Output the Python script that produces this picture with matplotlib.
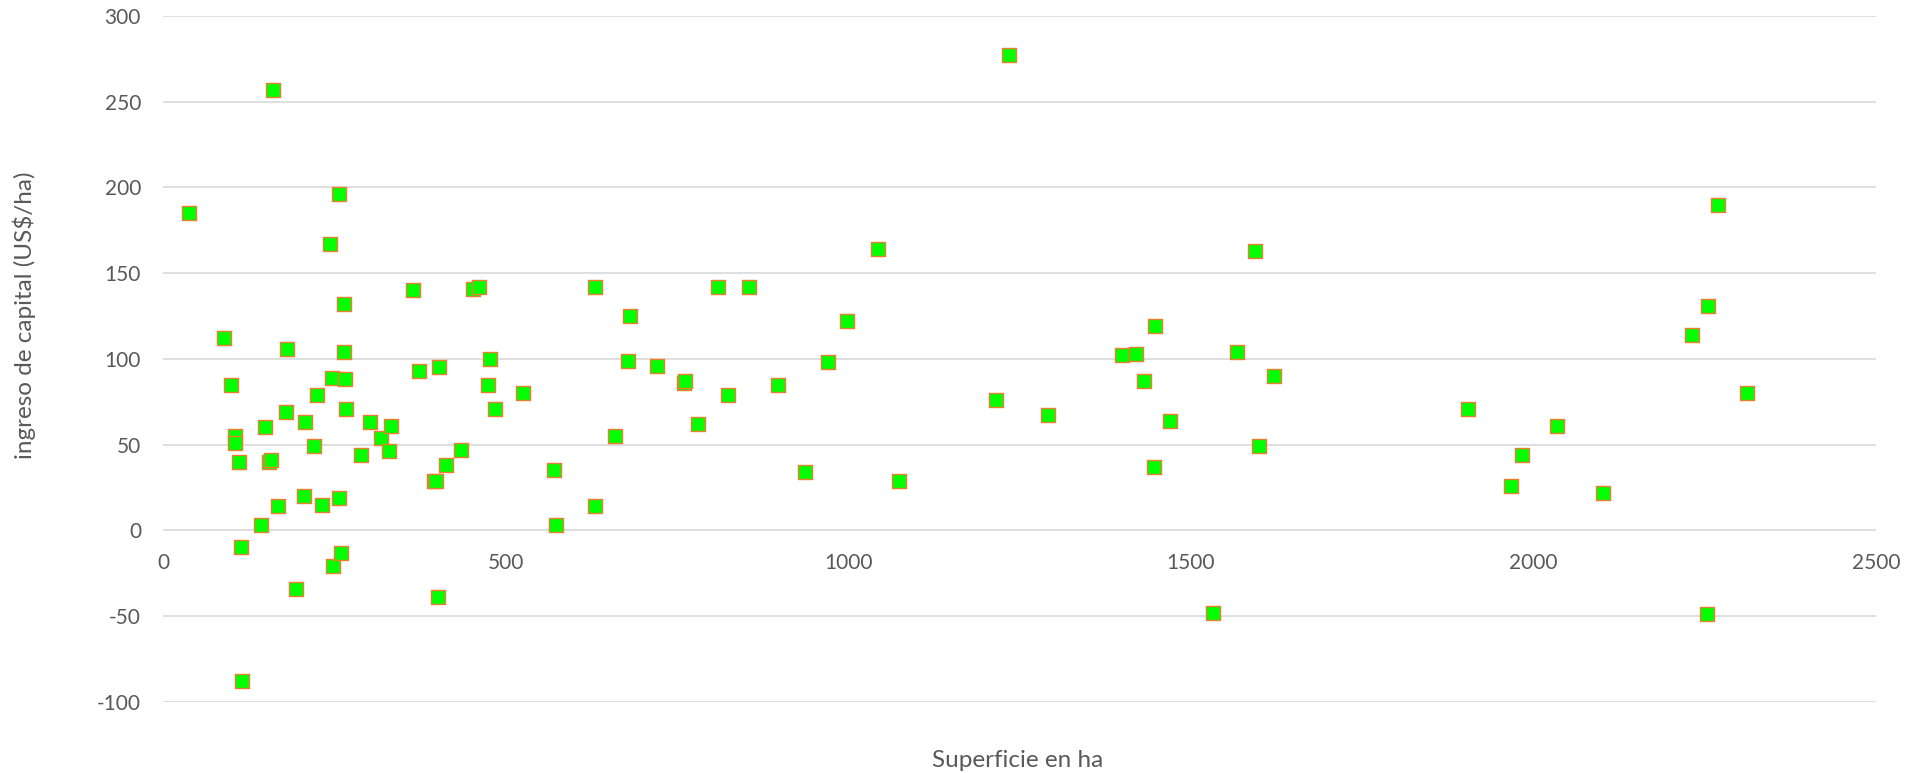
import matplotlib
matplotlib.use("Agg")
import matplotlib.pyplot as plt

# superficie (ha) and ingreso de capital (US$/ha)
superficie = [37, 88, 99, 105, 105, 111, 113, 115, 143, 148, 154, 157, 160, 168, 179, 181,
              194, 206, 207, 220, 224, 232, 243, 247, 248, 256, 257, 260, 264, 264, 265, 267,
              288, 302, 318, 329, 332, 364, 374, 395, 398, 401, 402, 413, 434, 452, 461, 474,
              477, 484, 525, 570, 574, 630, 630, 659, 678, 682, 720, 760, 762, 781, 810, 825,
              855, 897, 937, 970, 998, 1043, 1074, 1216, 1234, 1292, 1400, 1420, 1431, 1446,
              1448, 1469, 1533, 1568, 1594, 1600, 1622, 1904, 1967, 1983, 2035, 2101, 2231,
              2254, 2255, 2269, 2312]
ingreso = [185, 112, 85, 55, 51, 40, -10, -88, 3, 60, 40, 41, 257, 14, 69, 106,
           -34, 20, 63, 49, 79, 15, 167, 89, -21, 196, 19, -13, 132, 104, 88, 71,
           44, 63, 54, 46, 61, 140, 93, 29, 29, -39, 95, 38, 47, 141, 142, 85,
           100, 71, 80, 35, 3, 142, 14, 55, 99, 125, 96, 86, 87, 62, 142, 79,
           142, 85, 34, 98, 122, 164, 29, 76, 277, 67, 102, 103, 87, 37,
           119, 64, -48, 104, 163, 49, 90, 71, 26, 44, 61, 22, 114,
           -49, 131, 190, 80]

x_ticks = [0, 500, 1000, 1500, 2000, 2500]
y_ticks = [-100, -50, 0, 50, 100, 150, 200, 250, 300]

plt.rcParams['font.family'] = ['Lato', 'DejaVu Sans']
plt.rcParams['axes.unicode_minus'] = False
GREY = '#595959'

fig = plt.figure(figsize=(19.16, 7.73), dpi=100)
ax = fig.add_axes([0.0852, 0.0922, 0.8939, 0.8871])

ax.scatter(superficie, ingreso, marker='s', s=100, facecolor='#00FF00',
           edgecolor='#ED7D31', linewidth=1.0, zorder=3)

ax.set_xlim(0, 2500)
ax.set_ylim(-100, 300)
ax.set_xticks(x_ticks)
ax.set_yticks(y_ticks)
ax.yaxis.grid(True, color='#D9D9D9', linewidth=1.2)
ax.set_axisbelow(True)

# horizontal axis crosses at 0, like the original
ax.spines['bottom'].set_position(('data', 0))
for s in ['top', 'right', 'left', 'bottom']:
    ax.spines[s].set_visible(False)

ax.tick_params(axis='both', length=0, labelsize=15, labelcolor=GREY)
ax.tick_params(axis='y', pad=16)
ax.tick_params(axis='x', pad=16)

fig.text(0.5312, 0.0168, 'Superficie en ha', ha='center', va='center',
         fontsize=17.5, color=GREY)
fig.text(0.0125, 0.5925, 'ingreso de capital (US$/ha)', ha='center', va='center',
         rotation=90, fontsize=17.5, color=GREY)

fig.savefig('out.png', dpi=100)
